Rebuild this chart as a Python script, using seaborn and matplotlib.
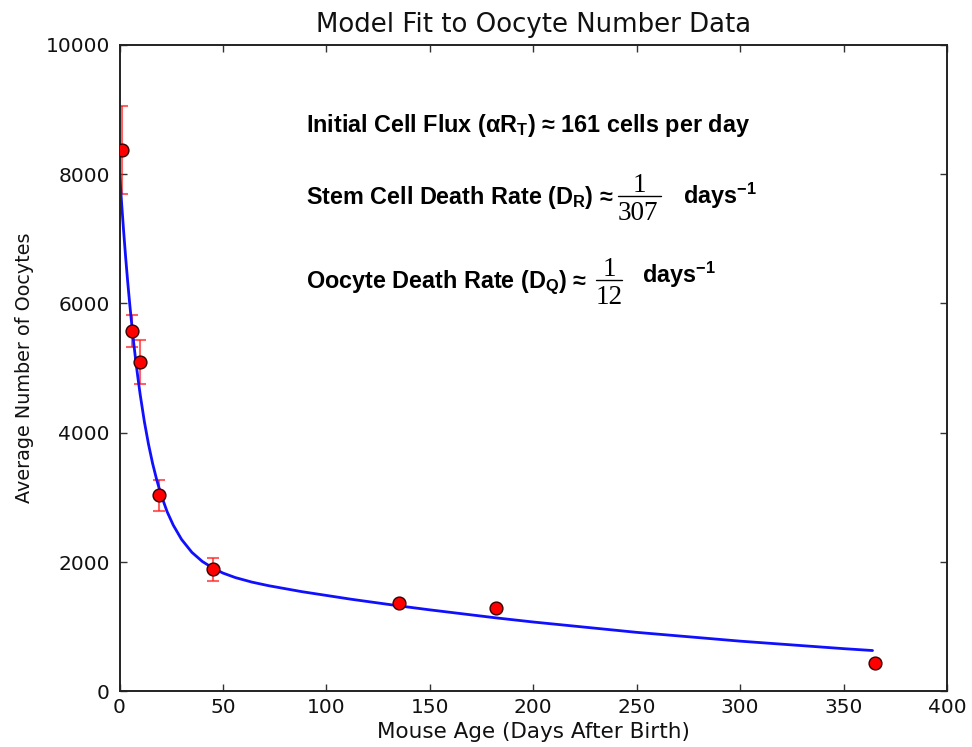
import matplotlib
matplotlib.use("Agg")
import matplotlib.pyplot as plt
import seaborn as sns
from matplotlib.lines import Line2D

days = [1, 6, 10, 19, 45, 135, 182, 365]
oocytes = [8370, 5570, 5100, 3035, 1885, 1360, 1290, 440]
errors = [680, 245, 340, 240, 185, 0, 0, 0]

# Model fit curve
fit_days = [0, 1, 2, 3, 4, 5, 6, 7, 8, 9, 10, 12, 14, 16, 18, 20, 23, 26, 30,
            35, 40, 45, 50, 56, 64, 72, 88, 112, 135, 150, 182, 200, 250, 300,
            350, 364]
fit_vals = [8050, 7560, 7115, 6700, 6320, 5970, 5650, 5350, 5075, 4825, 4590,
            4175, 3825, 3525, 3270, 3050, 2780, 2570, 2350, 2150, 2010, 1910,
            1830, 1760, 1690, 1635, 1543, 1425, 1323, 1261, 1137, 1073, 913,
            777, 661, 632]

x_ticks = [0, 50, 100, 150, 200, 250, 300, 350, 400]
y_ticks = [0, 2000, 4000, 6000, 8000, 10000]

title = "Model Fit to Oocyte Number Data"
x_label = "Mouse Age (Days After Birth)"
y_label = "Average Number of Oocytes"

sns.set_theme(style="ticks")
plt.rcParams.update({
    "font.family": ["DejaVu Sans"],
    "xtick.direction": "in",
    "ytick.direction": "in",
    "xtick.top": True,
    "ytick.right": True,
    "axes.edgecolor": "#222222",
    "axes.linewidth": 1.4,
})

W, H = 972, 747
fig = plt.figure(figsize=(W / 100, H / 100), dpi=100)
fig.patch.set_facecolor("white")
ax = fig.add_axes([119.5 / W, 1 - 691.4 / H, (947 - 119.5) / W, (691.4 - 44.7) / H])
ax.set_facecolor("white")

sns.lineplot(x=fit_days, y=fit_vals, color="#1010ff", linewidth=2.0, ax=ax,
             zorder=2)
eb_x = [d for d, e in zip(days, errors) if e > 0]
eb_y = [o for o, e in zip(oocytes, errors) if e > 0]
eb_e = [e for e in errors if e > 0]
ax.errorbar(eb_x, eb_y, yerr=eb_e, fmt="none", ecolor="#ff2020", alpha=0.7,
            elinewidth=1.5, capsize=4, capthick=1.5, zorder=1)
sns.scatterplot(x=days, y=oocytes, color="red", edgecolor="#3a0000",
                linewidth=1.0, s=85, ax=ax, zorder=3)

ax.set_xlim(0, 400)
ax.set_ylim(0, 10000)
ax.set_xticks(x_ticks)
ax.set_yticks(y_ticks)
ax.tick_params(axis="both", which="major", length=5, width=1.0,
               color="#333333", labelsize=14.5, labelcolor="#111111")
ax.tick_params(axis="y", pad=7)
ax.tick_params(axis="x", pad=5)
for s in ax.spines.values():
    s.set_visible(True)

ax.set_title(title, fontsize=18.7, pad=9, color="#111111")
ax.set_xlabel(x_label, fontsize=15.5, labelpad=3, color="#111111")
ax.set_ylabel(y_label, fontsize=13.8, labelpad=8, color="#111111")


def fx(x):
    return x / W


def fy(y):
    return 1 - y / H


bold = dict(family=["Liberation Sans", "DejaVu Sans"], weight="bold",
            fontsize=16.8, color="black", va="baseline", ha="left")
serif = dict(family=["Liberation Serif", "DejaVu Serif"], fontsize=19.5,
             color="black", va="baseline", ha="center")

fig.text(fx(306), fy(131.7),
         r"Initial Cell Flux (αR$_\mathregular{T}$) ≈ 161 cells per day", **bold)
fig.text(fx(306), fy(204),
         r"Stem Cell Death Rate (D$_\mathregular{R}$) ≈", **bold)
fig.text(fx(306), fy(288.3),
         r"Oocyte Death Rate (D$_\mathregular{Q}$) ≈", **bold)

# fraction 1/307
fig.text(fx(639.5), fy(192), "1", **serif)
fig.add_artist(Line2D([fx(618), fx(661)], [fy(196), fy(196)], color="black",
                      linewidth=1.0))
fig.text(fx(638), fy(220), "307", **serif)
fig.text(fx(682.5), fy(204), r"days$^\mathregular{-1}$", **bold)

# fraction 1/12
fig.text(fx(609), fy(276), "1", **serif)
fig.add_artist(Line2D([fx(596), fx(622)], [fy(280), fy(280)], color="black",
                      linewidth=1.0))
fig.text(fx(609), fy(304), "12", **serif)
fig.text(fx(642), fy(283), r"days$^\mathregular{-1}$", **bold)

fig.savefig("out.png", dpi=100, facecolor="white")
